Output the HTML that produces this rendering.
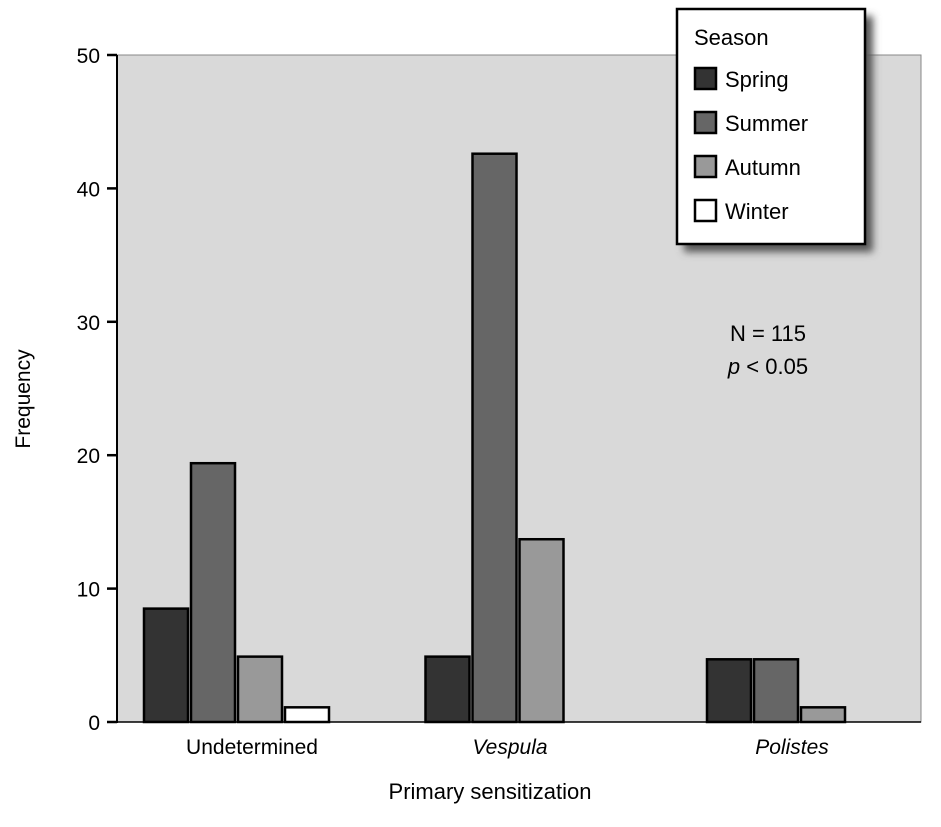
<!DOCTYPE html>
<html><head><meta charset="utf-8"><style>
body{margin:0;background:#fff;}
svg{font-family:"Liberation Sans",Arial,sans-serif;}
</style></head><body>
<svg id="chart" width="941" height="822">
<defs><filter id="sh" x="-20%" y="-20%" width="150%" height="150%"><feGaussianBlur stdDeviation="4"/></filter></defs>
<rect x="117" y="55" width="804" height="667" fill="#d9d9d9" stroke="#888" stroke-width="1"/>
<line x1="117" y1="55" x2="117" y2="723" stroke="#000" stroke-width="2"/>
<line x1="116" y1="722" x2="921" y2="722" stroke="#000" stroke-width="1.5"/>
<g id="ticks"></g>
<g id="bars"></g>
<text x="19" y="388" font-size="21" text-anchor="middle" transform="rotate(-90 30 388)">Frequency</text>
<text x="490" y="799" font-size="22" text-anchor="middle">Primary sensitization</text>
<text x="768" y="341" font-size="22" text-anchor="middle">N = 115</text>
<text x="768" y="374" font-size="22" text-anchor="middle"><tspan font-style="italic">p</tspan> &lt; 0.05</text>
<rect x="684" y="16" width="189" height="236" fill="#555" filter="url(#sh)"/>
<rect x="677" y="9" width="188" height="235" fill="#fff" stroke="#000" stroke-width="2.5"/>
<text x="694" y="45" font-size="22">Season</text>
<g id="legend"></g>
</svg>
<script>
const categories=["Undetermined","Vespula","Polistes"];
const seasons=["Spring","Summer","Autumn","Winter"];
const spring=[8.5,4.9,4.7];
const summer=[19.4,42.6,4.7];
const autumn=[4.9,13.7,1.1];
const winter=[1.1,0,0];
const yTicks=[0,10,20,30,40,50];
const series=[spring,summer,autumn,winter];
const colors=["#333","#666","#999","#fff"];
const NS="http://www.w3.org/2000/svg";
const y=v=>722-v*(667/50);
const catStart=i=>144+i*281.5;
const labelX=[252,510,792];
function mk(tag,attrs,parent){const e=document.createElementNS(NS,tag);for(const k in attrs)e.setAttribute(k,attrs[k]);parent.appendChild(e);return e;}
const tg=document.getElementById('ticks');
yTicks.forEach(t=>{
  const l=mk('line',{x1:107,x2:117,y1:y(t),y2:y(t),stroke:'#000','stroke-width':2.5},tg);
  
  
  const tx=mk('text',{x:100,y:y(t)+8,'font-size':21,'text-anchor':'end'},tg);
  tx.textContent=t;
  
  
});
categories.forEach((c,i)=>{
  const tx=mk('text',{x:labelX[i],y:754,'font-size':21,'text-anchor':'middle'},tg);
  if(i>0)tx.setAttribute('font-style','italic');
  tx.textContent=c;
  
  
});
const bg=document.getElementById('bars');
series.forEach((s,j)=>{
  s.forEach((v,i)=>{
    if(v<=0)return;
    const r=mk('rect',{x:catStart(i)+j*47,y:y(v),width:44,height:722-y(v),fill:colors[j],stroke:'#000','stroke-width':2.5},bg);
    
    
  });
});
const lg=document.getElementById('legend');
seasons.forEach((s,j)=>{
  const yy=68+j*44;
  const r=mk('rect',{x:695,y:yy,width:21,height:21,fill:colors[j],stroke:'#000','stroke-width':2.5},lg);
  
  
  const t=mk('text',{x:725,y:yy+19,'font-size':22},lg);
  t.textContent=s;
  
  
});
</script>
</body></html>
